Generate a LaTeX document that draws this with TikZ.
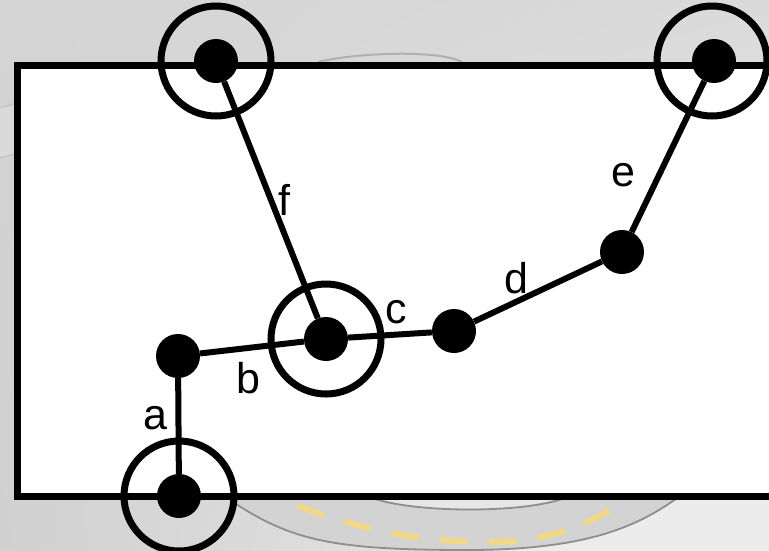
\documentclass[tikz,border=0pt]{standalone}
\usepackage{fontspec}
\setmainfont{Liberation Sans}
\usetikzlibrary{shadings}
\definecolor{bgA}{HTML}{D4D4D4}
\definecolor{bgB}{HTML}{DADADA}
\definecolor{bgC}{HTML}{D0D0D0}
\definecolor{bgD}{HTML}{F0F0F0}
\definecolor{roadline}{HTML}{8E8E8E}
\definecolor{roadbed}{HTML}{D3D3D3}
\definecolor{roadin}{HTML}{E6E6E6}
\definecolor{roadout}{HTML}{ECECEC}
\definecolor{lane}{HTML}{F0D888}
\tikzset{
  dot/.style={circle, fill=black, minimum size=44pt, inner sep=0pt},
  ring/.style={circle, draw=black, line width=7pt, minimum size=110pt, inner sep=0pt},
  conn/.style={line width=6pt, black},
  lbl/.style={inner sep=0pt, font=\fontsize{43}{50}\selectfont}
}
\begin{document}
\begin{tikzpicture}[x=1pt,y=-1pt]
\useasboundingbox (0,0) rectangle (769,550);
\clip (0,0) rectangle (769,550);
% background
\shade[upper left=bgA, upper right=bgB, lower left=bgC, lower right=bgD] (0,0) rectangle (769,550);
% left road stub
\fill[bgB] (0,108) -- (14,104) -- (14,154) -- (0,158) -- cycle;
\draw[line width=1.5pt, roadline!50] (0,108) -- (14,104);
\draw[line width=1.5pt, roadline!50] (0,158) -- (14,154);
% top faint curve
\draw[line width=2pt, roadline!70] (318,62) .. controls (360,52) and (440,50) .. (462,62);
% bottom road
\fill[roadbed] (230,500) .. controls (290,540) and (330,550) .. (467,550) .. controls (590,550) and (640,525) .. (680,496) -- cycle;
\fill[roadout] (680,496) .. controls (640,525) and (590,550) .. (467,550) -- (467,560) -- (769,560) -- (769,496) -- cycle;
\fill[roadin] (375,499) .. controls (420,513) and (520,513) .. (562,499) -- cycle;
\draw[line width=1.8pt, roadline] (375,499) .. controls (420,513) and (520,513) .. (562,499);
\draw[line width=1.8pt, roadline] (230,500) .. controls (290,540) and (330,550) .. (467,550) .. controls (590,550) and (640,525) .. (680,496);
\draw[line width=6pt, lane, dash pattern=on 28pt off 21pt, dash phase=41pt]
  (290,503) .. controls (360,530) and (420,542) .. (487,542) .. controls (550,542) and (590,525) .. (628,498);
% frame
\draw[line width=7pt, fill=white] (17,65) rectangle (800,496);
% nodes
\node[ring] (rtl) at (216,61) {};
\node[ring] (rtr) at (712,61) {};
\node[ring] (rctr) at (326,339) {};
\node[ring] (rbot) at (179,496) {};
\node[dot] (tl) at (216,61) {};
\node[dot] (tr) at (714,61) {};
\node[dot] (ctr) at (326,339) {};
\node[dot] (bot) at (179,496) {};
\node[dot] (nb) at (178,356) {};
\node[dot] (nc) at (454,331) {};
\node[dot] (nd) at (622,252) {};
% connectors
\draw[conn] (bot) -- (nb);
\draw[conn] (nb) -- (ctr);
\draw[conn] (ctr) -- (nc);
\draw[conn] (nc) -- (nd);
\draw[conn] (nd) -- (tr);
\draw[conn] (tl) -- (ctr);
% labels
\node[lbl] (la) at (155,418) {a};
\node[lbl] (lb) at (248,378) {b};
\node[lbl] (lc) at (396,312) {c};
\node[lbl] (ld) at (516,278) {d};
\node[lbl] (le) at (623,175) {e};
\node[lbl] (lf) at (284,200) {f};
\end{tikzpicture}
\end{document}
